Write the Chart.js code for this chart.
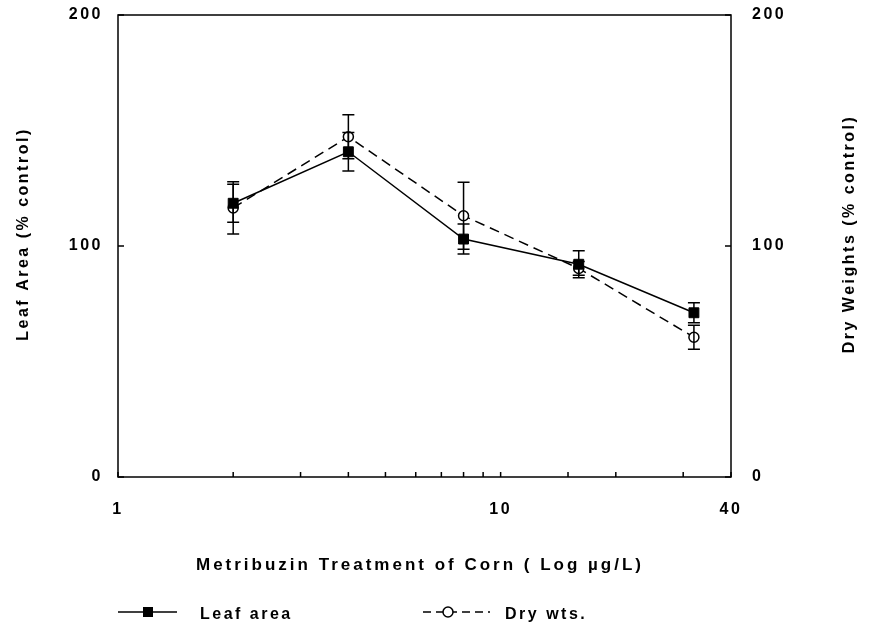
<!DOCTYPE html>
<html><head><meta charset="utf-8">
<script src="https://cdn.jsdelivr.net/npm/chart.js@4/dist/chart.umd.min.js"></script>
<style>html,body{margin:0;padding:0;background:#fff;}#wrap{width:873px;height:627px;}</style>
</head><body><div id="wrap"><canvas id="c" width="873" height="627"></canvas></div>
<script>
const concentrations = [2, 4, 8, 16, 32];
const leafArea = [118.5, 140.8, 103.0, 92.1, 71.1];
const leafAreaErr = [8.2, 8.3, 6.5, 5.8, 4.3];
const dryWts = [116.5, 147.3, 113.1, 90.3, 60.5];
const dryWtsErr = [11.3, 9.5, 14.5, 3.0, 5.2];
const xTickValues = [1, 2, 3, 4, 5, 6, 7, 8, 9, 10, 15, 20, 30, 40];
const xTickLabels = [1, 10, 40];
const yTickValues = [0, 100, 200];
const xTitle = 'Metribuzin Treatment of Corn ( Log µg/L)';
const yTitle = 'Leaf Area (% control)';
const y2Title = 'Dry Weights (% control)';
const seriesNames = ['Leaf area', 'Dry wts.'];

const FAM = '"Liberation Sans", Arial, sans-serif';
const SPACING = '2.5px';

const toPts = (vals) => concentrations.map((c, i) => ({x: c, y: vals[i]}));

function noPad(s) { s.paddingTop = 0; s.paddingBottom = 0; s.paddingLeft = 0; s.paddingRight = 0; }

const errPlugin = {
  id: 'errbars',
  beforeDraw(chart) { chart.ctx.letterSpacing = SPACING; },
  afterDatasetsDraw(chart) {
    const ctx = chart.ctx, xs = chart.scales.x, ys = chart.scales.y;
    ctx.save();
    ctx.strokeStyle = '#000'; ctx.lineWidth = 1.5;
    const sets = [[dryWts, dryWtsErr], [leafArea, leafAreaErr]];
    sets.forEach(([vals, errs]) => {
      vals.forEach((v, i) => {
        const px = xs.getPixelForValue(concentrations[i]);
        const top = ys.getPixelForValue(v + errs[i]);
        const bot = ys.getPixelForValue(v - errs[i]);
        ctx.beginPath();
        ctx.moveTo(px, top); ctx.lineTo(px, bot);
        ctx.moveTo(px - 6, top); ctx.lineTo(px + 6, top);
        ctx.moveTo(px - 6, bot); ctx.lineTo(px + 6, bot);
        ctx.stroke();
      });
    });
    ctx.restore();
  },
  afterDraw(chart) {
    const ctx = chart.ctx, a = chart.chartArea, xs = chart.scales.x, ys = chart.scales.y;
    ctx.save();
    ctx.strokeStyle = '#000'; ctx.lineWidth = 1.5;
    ctx.strokeRect(a.left, a.top, a.right - a.left, a.bottom - a.top);
    ctx.beginPath();
    xTickValues.forEach(v => {
      const px = xs.getPixelForValue(v);
      ctx.moveTo(px, a.bottom); ctx.lineTo(px, a.bottom - 5);
    });
    yTickValues.forEach(v => {
      const py = ys.getPixelForValue(v);
      ctx.moveTo(a.left, py); ctx.lineTo(a.left + 6, py);
      ctx.moveTo(a.right, py); ctx.lineTo(a.right - 6, py);
    });
    ctx.stroke();
    ctx.restore();
    // titles
    ctx.save();
    ctx.fillStyle = '#000';
    ctx.textAlign = 'center'; ctx.textBaseline = 'middle';
    ctx.letterSpacing = '3px';
    ctx.font = 'bold 17px ' + FAM;
    ctx.fillText(xTitle, 420, 565);
    ctx.letterSpacing = SPACING;
    ctx.font = 'bold 16px ' + FAM;
    ctx.save(); ctx.translate(24, 234); ctx.rotate(-Math.PI / 2); ctx.fillText(yTitle, 0, 0); ctx.restore();
    ctx.save(); ctx.translate(850, 234); ctx.rotate(-Math.PI / 2); ctx.fillText(y2Title, 0, 0); ctx.restore();
    ctx.restore();
    // legend
    ctx.save();
    ctx.letterSpacing = SPACING;
    ctx.strokeStyle = '#000'; ctx.fillStyle = '#000'; ctx.lineWidth = 1.5;
    const ly = 612;
    ctx.beginPath(); ctx.moveTo(118, ly); ctx.lineTo(177, ly); ctx.stroke();
    ctx.fillRect(143, ly - 5, 10, 10);
    ctx.setLineDash([8, 5]);
    ctx.beginPath(); ctx.moveTo(423, ly); ctx.lineTo(490, ly); ctx.stroke();
    ctx.setLineDash([]);
    ctx.beginPath(); ctx.arc(448, ly, 5, 0, Math.PI * 2);
    ctx.fillStyle = '#fff'; ctx.fill(); ctx.stroke();
    ctx.fillStyle = '#000';
    ctx.font = 'bold 16px ' + FAM;
    ctx.textAlign = 'left'; ctx.textBaseline = 'middle';
    ctx.fillText(chart.data.datasets[0].label, 200, ly + 3);
    ctx.fillText(chart.data.datasets[1].label, 505, ly + 3);
    ctx.restore();
  }
};

new Chart(document.getElementById('c'), {
  type: 'line',
  data: {
    datasets: [
      { label: seriesNames[0], data: toPts(leafArea), borderColor: '#000', borderWidth: 1.5,
        pointStyle: 'rect', pointRadius: 7, pointBackgroundColor: '#000', pointBorderColor: '#000',
        pointBorderWidth: 1, tension: 0, yAxisID: 'y' },
      { label: seriesNames[1], data: toPts(dryWts), borderColor: '#000', borderWidth: 1.5,
        borderDash: [10, 6], pointStyle: 'circle', pointRadius: 5, pointBackgroundColor: '#fff',
        pointBorderColor: '#000', pointBorderWidth: 1.5, tension: 0, yAxisID: 'y2' }
    ]
  },
  options: {
    responsive: false, animation: false, devicePixelRatio: 1,
    layout: { padding: { top: 15, left: 0, right: 0, bottom: 0 }, autoPadding: false },
    plugins: { legend: { display: false }, tooltip: { enabled: false } },
    scales: {
      x: {
        type: 'logarithmic', position: 'bottom', min: 1, max: 40,
        afterBuildTicks: s => { s.ticks = xTickValues.map(v => ({ value: v })); },
        afterFit: s => { s.height = 150; noPad(s); },
        grid: { display: false, drawTicks: false }, border: { display: false },
        ticks: { autoSkip: false, maxRotation: 0, padding: 23, color: '#000',
          font: { family: FAM, size: 16, weight: 'bold' },
          callback: v => xTickLabels.includes(v) ? String(v) : '' }
      },
      y: {
        position: 'left', min: 0, max: 200,
        afterBuildTicks: s => { s.ticks = yTickValues.map(v => ({ value: v })); },
        afterFit: s => { s.width = 118; noPad(s); },
        grid: { display: false, drawTicks: false }, border: { display: false },
        ticks: { padding: 15, color: '#000', font: { family: FAM, size: 16, weight: 'bold' } }
      },
      y2: {
        position: 'right', min: 0, max: 200,
        afterBuildTicks: s => { s.ticks = yTickValues.map(v => ({ value: v })); },
        afterFit: s => { s.width = 142; noPad(s); },
        grid: { display: false, drawTicks: false }, border: { display: false },
        ticks: { padding: 21, color: '#000', font: { family: FAM, size: 16, weight: 'bold' } }
      }
    }
  },
  plugins: [errPlugin]
});
</script></body></html>
